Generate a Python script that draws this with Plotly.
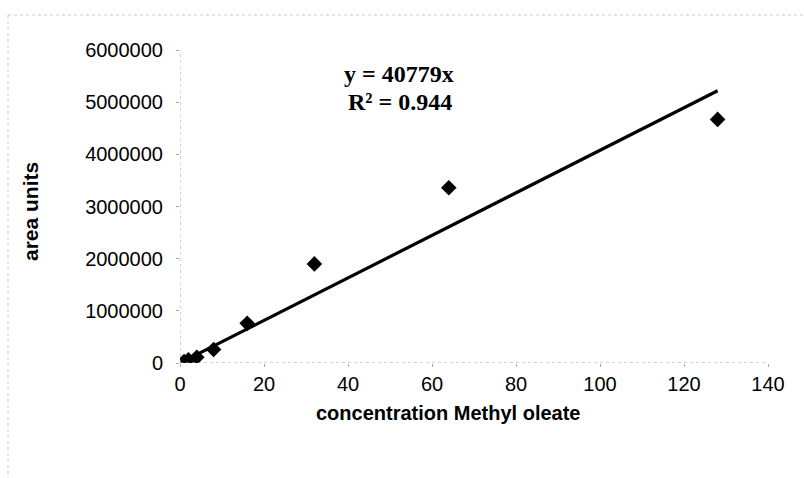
import plotly.graph_objects as go

# ---- data ----
conc = [1, 2, 4, 8, 16, 32, 64, 128]
area = [30000, 60000, 110000, 260000, 760000, 1900000, 3360000, 4670000]
slope = 40779
r2 = 0.944
x_ticks = [0, 20, 40, 60, 80, 100, 120, 140]
y_ticks = [0, 1000000, 2000000, 3000000, 4000000, 5000000, 6000000]
y_tick_labels = [str(v) for v in y_ticks]
eq_text = f"y = {slope}x"
r2_text = f"R² = {r2}"
x_title = "concentration Methyl oleate"
y_title = "area units"

trend_x = [0] + conc
trend_y = [slope * x for x in trend_x]

W, H = 804, 478
L, R, T, B = 180, 36, 50, 115

fig = go.Figure()
fig.add_trace(go.Scatter(x=trend_x, y=trend_y, mode="lines",
                         line=dict(color="black", width=3.2), showlegend=False))
fig.add_trace(go.Scatter(x=conc, y=area, mode="markers",
                         marker=dict(symbol="diamond", color="black", size=12,
                                     line=dict(width=0)), showlegend=False))

axis_col = "#a8a8a8"
fig.update_xaxes(range=[0, 140], tickvals=x_ticks, ticktext=[str(v) for v in x_ticks],
                 showgrid=False, zeroline=False, showline=False,
                 ticks="outside", ticklen=3, tickcolor=axis_col,
                 tickfont=dict(family="Liberation Sans, Arial", size=20, color="black"))
fig.update_yaxes(range=[0, 6000000], tickvals=y_ticks, ticktext=y_tick_labels,
                 showgrid=False, zeroline=False, showline=False,
                 ticks="outside", ticklen=3, tickcolor=axis_col, ticklabelstandoff=9,
                 tickfont=dict(family="Liberation Sans, Arial", size=20, color="black"))

shapes = [
    dict(type="line", xref="x", yref="y", x0=0, x1=0, y0=0, y1=6000000,
         line=dict(color=axis_col, width=1, dash="dot")),
    dict(type="line", xref="x", yref="y", x0=0, x1=140, y0=0, y1=0,
         line=dict(color=axis_col, width=1, dash="dot")),
]
# faint outer chart-area border (top and left)
pw, ph = W - L - R, H - T - B
bx = (8 - L) / pw
by = (H - B - 15) / ph
shapes.append(dict(type="line", xref="paper", yref="paper", x0=bx, x1=bx, y0=by, y1=-(B) / ph,
                   line=dict(color="#c8c8c8", width=1, dash="dot")))
shapes.append(dict(type="line", xref="paper", yref="paper", x0=bx, x1=(W - L) / pw, y0=by, y1=by,
                   line=dict(color="#c8c8c8", width=1, dash="dot")))

annotations = [
    dict(x=(399 - L) / pw, y=(H - B - 74) / ph, xref="paper", yref="paper",
         text=f"<b>{eq_text}</b>", showarrow=False, xanchor="center", yanchor="middle",
         font=dict(family="Liberation Serif, Times New Roman", size=24, color="black")),
    dict(x=(400 - L) / pw, y=(H - B - 102) / ph, xref="paper", yref="paper",
         text=f"<b>{r2_text}</b>", showarrow=False, xanchor="center", yanchor="middle",
         font=dict(family="Liberation Serif, Times New Roman", size=24, color="black")),
    dict(x=(448 - L) / pw, y=(H - B - 413) / ph, xref="paper", yref="paper",
         text=f"<b>{x_title}</b>", showarrow=False, xanchor="center", yanchor="middle",
         font=dict(family="Liberation Sans, Arial", size=20, color="black")),
    dict(x=(30 - L) / pw, y=(H - B - 212) / ph, xref="paper", yref="paper",
         text=f"<b>{y_title}</b>", showarrow=False, xanchor="center", yanchor="middle",
         textangle=-90,
         font=dict(family="Liberation Sans, Arial", size=21, color="black")),
]

fig.update_layout(width=W, height=H, margin=dict(l=L, r=R, t=T, b=B, autoexpand=False),
                  plot_bgcolor="white", paper_bgcolor="white",
                  shapes=shapes, annotations=annotations)

fig.write_html("out.html")
